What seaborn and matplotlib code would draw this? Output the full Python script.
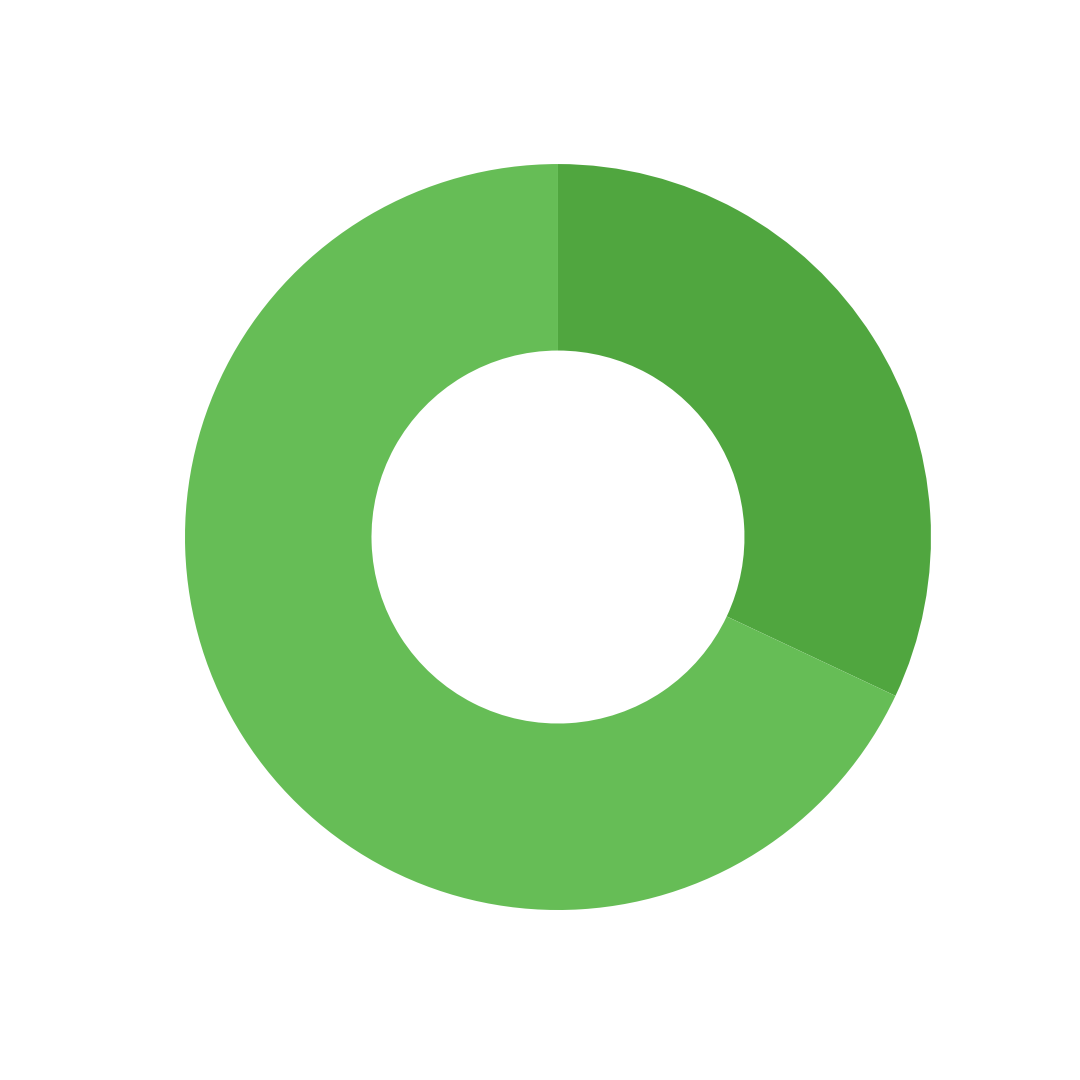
import matplotlib
matplotlib.use("Agg")
import matplotlib.pyplot as plt
import seaborn as sns

# slice data, clockwise from 12 o'clock
labels = ["A", "B"]
values = [32, 68]
colors = ["#50A63F", "#66BD56"]

sns.set_theme(style="white")

fig = plt.figure(figsize=(10.8, 10.8), dpi=100)
ax = fig.add_axes([0.1713, 0.1574, 0.6907, 0.6907])
ax.pie(values, colors=colors, startangle=90, counterclock=False,
       radius=1.0, wedgeprops=dict(width=0.5, edgecolor="none", linewidth=0))
ax.set_xlim(-1, 1)
ax.set_ylim(-1, 1)
ax.set_aspect("equal")
ax.axis("off")

fig.savefig("out.png", dpi=100, facecolor="white")
